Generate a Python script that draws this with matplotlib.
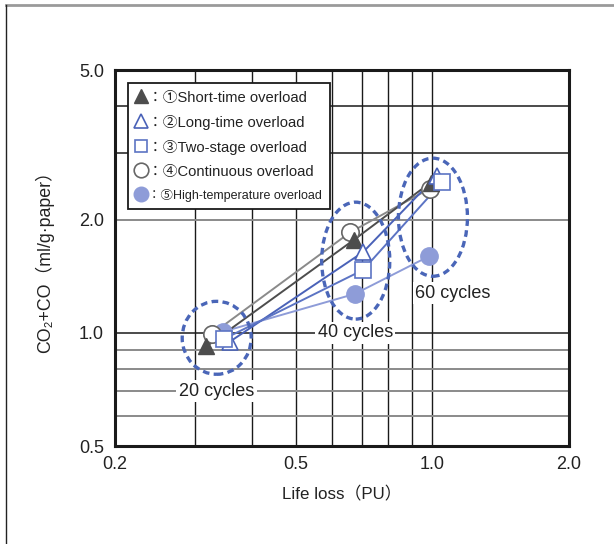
import matplotlib
matplotlib.use('Agg')
import matplotlib.pyplot as plt
from matplotlib.patches import Ellipse
from matplotlib.lines import Line2D

plt.rcParams['font.family'] = ['Liberation Sans', 'Noto Sans CJK JP', 'DejaVu Sans']

# ---- data ----
series_labels = ['：①Short-time overload', '：②Long-time overload', '：③Two-stage overload',
                 '：④Continuous overload', '：⑤High-temperature overload']
life_short = [0.318, 0.673, 0.991]
gas_short = [0.92, 1.77, 2.51]
life_long = [0.358, 0.704, 1.024]
gas_long = [0.947, 1.64, 2.62]
life_two = [0.348, 0.704, 1.052]
gas_two = [0.964, 1.47, 2.52]
life_cont = [0.327, 0.659, 0.988]
gas_cont = [0.993, 1.85, 2.42]
life_high = [0.346, 0.676, 0.985]
gas_high = [1.007, 1.27, 1.60]

cycle_labels = ['20 cycles', '40 cycles', '60 cycles']
cycle_label_x = [0.335, 0.676, 1.11]
cycle_label_y = [0.70, 1.00, 1.276]
cluster_x = [0.335, 0.678, 1.003]
cluster_y = [0.97, 1.556, 2.03]

x_ticks = [0.2, 0.5, 1.0, 2.0]
x_ticklabels = ['0.2', '0.5', '1.0', '2.0']
y_ticks = [0.5, 1.0, 2.0, 5.0]
y_ticklabels = ['0.5', '1.0', '2.0', '5.0']
x_grid_dark = [0.3, 0.4, 0.5, 0.6, 0.7, 0.8, 0.9, 1.0]
y_grid_gray = [0.6, 0.7, 0.8, 0.9, 2.0]
y_grid_dark = [1.0, 3.0, 4.0]

# ---- figure ----
fig = plt.figure(figsize=(6.14, 5.44), dpi=100)
ax = fig.add_axes([0.1873, 0.1801, 0.7394, 0.6912])
ax.set_xscale('log')
ax.set_yscale('log')
ax.set_xlim(0.2, 2.0)
ax.set_ylim(0.5, 5.0)

for gx in x_grid_dark:
    ax.axvline(gx, color='#1a1a1a', lw=1.0, zorder=1)
for gy in y_grid_gray:
    ax.axhline(gy, color='#8a8a8a', lw=1.4, zorder=1)
for gy in y_grid_dark:
    ax.axhline(gy, color='#1a1a1a', lw=1.1, zorder=1)

c_dark = '#4d4d4d'
c_gray = '#8a8a8a'
c_blue = '#4a62b8'
c_blue2 = '#5c74c4'
c_light = '#8e9cd8'

ms_tri, ms_sq, ms_circ = 12, 11, 12.5

# lines
ax.plot(life_high, gas_high, color=c_light, lw=1.4, zorder=3)
ax.plot(life_cont, gas_cont, color=c_gray, lw=1.4, zorder=3)
ax.plot(life_short, gas_short, color=c_dark, lw=1.4, zorder=3)
ax.plot(life_long, gas_long, color=c_blue, lw=1.4, zorder=3)
ax.plot(life_two, gas_two, color=c_blue2, lw=1.4, zorder=3)

# markers
ax.plot(life_high, gas_high, 'o', ms=ms_circ, mfc=c_light, mec=c_light, zorder=5)
ax.plot(life_cont, gas_cont, 'o', ms=ms_circ, mfc='white', mec='#666666', mew=1.2, zorder=5)
ax.plot(life_short, gas_short, '^', ms=ms_tri, mfc=c_dark, mec=c_dark, zorder=5)
ax.plot(life_long, gas_long, '^', ms=ms_tri, mfc='white', mec=c_blue, mew=1.2, zorder=5)
ax.plot(life_two, gas_two, 's', ms=ms_sq, mfc='white', mec=c_blue2, mew=1.2, zorder=5)

# ellipses
ell_w = [0.152, 0.150, 0.152]
ell_h = [0.194, 0.311, 0.314]
for cx, cy, w, h in zip(cluster_x, cluster_y, ell_w, ell_h):
    fx, fy = ax.transAxes.inverted().transform(ax.transData.transform((cx, cy)))
    ax.add_patch(Ellipse((fx, fy), w, h, transform=ax.transAxes, fill=False,
                         ec='#4a66b8', lw=2.4, ls=(0, (2.0, 1.3)), zorder=6))

for lab, lx, ly in zip(cycle_labels, cycle_label_x, cycle_label_y):
    ax.text(lx, ly, lab, ha='center', va='center', fontsize=13, color='#222222', zorder=4,
            bbox=dict(facecolor='white', edgecolor='none', pad=2))

ax.set_xticks(x_ticks)
ax.set_xticklabels(x_ticklabels)
ax.set_yticks(y_ticks)
ax.set_yticklabels(y_ticklabels)
ax.xaxis.set_minor_locator(matplotlib.ticker.NullLocator())
ax.yaxis.set_minor_locator(matplotlib.ticker.NullLocator())
ax.tick_params(axis='both', length=0, labelsize=13, labelcolor='#222222')
ax.tick_params(axis='x', pad=7)
ax.tick_params(axis='y', pad=8)
for sp in ax.spines.values():
    sp.set_linewidth(2.2)
    sp.set_color('#1a1a1a')
    sp.set_zorder(7)

ax.set_xlabel('Life loss（PU）', fontsize=12.2, color='#222222', labelpad=10)
ax.set_ylabel('CO₂+CO（ml/g·paper）', fontsize=12.8, color='#222222', labelpad=18)

handles = [
    Line2D([], [], ls='none', marker='^', ms=10, mfc=c_dark, mec=c_dark),
    Line2D([], [], ls='none', marker='^', ms=10, mfc='white', mec=c_blue, mew=1.2),
    Line2D([], [], ls='none', marker='s', ms=9, mfc='white', mec=c_blue2, mew=1.2),
    Line2D([], [], ls='none', marker='o', ms=10.5, mfc='white', mec='#666666', mew=1.2),
    Line2D([], [], ls='none', marker='o', ms=10.5, mfc=c_light, mec=c_light),
]
leg = ax.legend(handles, series_labels, loc='upper left', bbox_to_anchor=(0.028, 0.965),
                frameon=True, fancybox=False, edgecolor='#1a1a1a', framealpha=1,
                handlelength=0.8, handletextpad=0.1, borderpad=0.5, labelspacing=0.68,
                fontsize=10.6, borderaxespad=0)
leg.get_frame().set_linewidth(1.3)
leg.set_zorder(8)
for t in leg.get_texts():
    t.set_color('#222222')
leg.get_texts()[4].set_fontsize(9.0)

# outer frame
fig.add_artist(Line2D([0.009, 1.0], [0.990, 0.990], transform=fig.transFigure, color='#9a9a9a', lw=2))
fig.add_artist(Line2D([0.009, 0.009], [0.0, 0.990], transform=fig.transFigure, color='#222222', lw=1))

fig.savefig('out.png', dpi=100)
